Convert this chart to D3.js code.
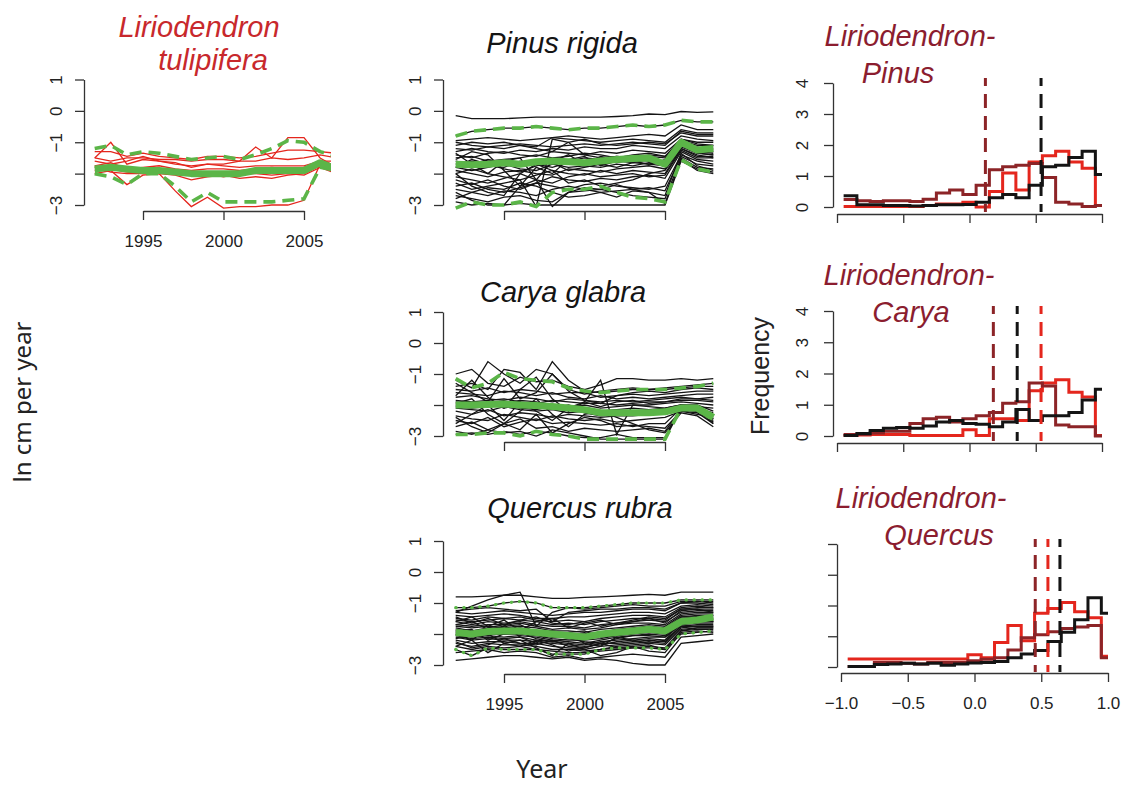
<!DOCTYPE html>
<html>
<head>
<meta charset="utf-8">
<script src="https://cdn.jsdelivr.net/npm/d3@7"></script>
<style>
  body { margin: 0; background: #fff; }
  svg text { font-family: "Liberation Sans", Arial, Helvetica, sans-serif; }
</style>
</head>
<body>
<svg id="fig" width="1122" height="786"></svg>
<script>
// growth series, ln cm per year, one value per year
const years = [1992,1993,1994,1995,1996,1997,1998,1999,2000,2001,2002,2003,2004,2005,2006,2007,2008];
const yearTicks = [1995, 2000, 2005];
const growthTicks = [-3, -2, -1, 0, 1];

const lirio = [
  [-1.3,-1.3,-1.45,-1.35,-1.45,-1.5,-1.55,-1.45,-1.45,-1.5,-1.45,-1.35,-1.25,-1.25,-1.3,-1.35,-1.4],
  [-1.5,-1.0,-1.7,-1.55,-1.6,-1.7,-1.75,-1.7,-1.7,-1.6,-1.15,-1.5,-0.85,-0.85,-1.5,-1.8,-2.0],
  [-1.9,-1.85,-1.95,-2.0,-2.0,-2.55,-3.05,-2.75,-3.1,-3.05,-3.05,-3.0,-3.0,-2.85,-1.7,-1.8,-2.0],
  [-1.6,-1.7,-1.6,-1.45,-1.6,-1.65,-1.8,-1.7,-1.75,-1.8,-1.75,-1.75,-1.75,-1.75,-1.6,-1.6,-1.55],
  [-2.0,-1.9,-2.35,-2.05,-2.0,-2.05,-2.2,-2.1,-2.05,-2.15,-2.1,-2.15,-2.05,-2.0,-1.75,-1.9,-2.1],
  [-1.8,-1.95,-2.0,-2.0,-1.95,-2.0,-2.05,-2.0,-2.1,-2.0,-2.0,-2.05,-2.0,-2.05,-1.8,-2.0,-2.2],
  [-1.75,-1.65,-1.85,-1.8,-1.75,-1.85,-1.9,-1.85,-1.85,-1.9,-1.85,-1.8,-1.85,-1.8,-1.65,-1.7,-1.75],
  [-1.5,-1.6,-1.5,-1.5,-1.55,-1.55,-1.6,-1.55,-1.55,-1.6,-1.6,-1.5,-1.55,-1.5,-1.4,-1.5,-1.6]
];
const lirioMean  = [-1.85,-1.8,-1.85,-1.9,-1.9,-1.95,-2.0,-2.0,-2.0,-2.0,-1.9,-1.9,-1.9,-1.9,-1.65,-1.85,-2.0];
const lirioUpper = [-1.2,-1.1,-1.4,-1.3,-1.35,-1.45,-1.55,-1.5,-1.45,-1.55,-1.4,-1.2,-0.95,-1.0,-1.3,-1.45,-1.4];
const lirioLower = [-2.0,-2.1,-2.35,-2.0,-2.0,-2.4,-2.9,-2.6,-2.9,-2.9,-2.9,-2.9,-2.85,-2.8,-1.8,-1.9,-2.1];

const pinus = [
  [-0.15,-0.25,-0.25,-0.25,-0.22,-0.2,-0.2,-0.2,-0.2,-0.2,-0.18,-0.15,-0.1,-0.12,-0.02,-0.05,-0.03],
  [-0.8,-0.65,-0.6,-0.55,-0.55,-0.5,-0.55,-0.6,-0.55,-0.55,-0.5,-0.45,-0.5,-0.45,-0.3,-0.35,-0.35],
  [-0.95,-0.9,-0.85,-0.9,-0.95,-0.9,-0.85,-0.8,-0.85,-0.9,-0.85,-0.8,-0.75,-0.8,-0.45,-0.6,-0.6],
  [-1.1,-1.0,-1.05,-1.0,-1.1,-1.15,-0.85,-0.9,-0.95,-1.0,-0.95,-0.9,-0.95,-1.0,-0.6,-0.7,-0.7],
  [-1.2,-1.25,-1.15,-1.2,-1.1,-1.2,-1.3,-1.0,-0.9,-1.05,-1.1,-1.05,-1.0,-1.05,-0.7,-0.8,-0.8],
  [-1.3,-1.2,-1.3,-1.35,-1.25,-1.3,-1.2,-1.25,-1.15,-1.2,-1.2,-1.1,-1.15,-1.2,-0.8,-0.9,-0.95],
  [-1.4,-1.5,-1.35,-1.3,-1.4,-1.45,-1.3,-1.35,-1.4,-1.3,-1.35,-1.25,-1.3,-1.35,-0.9,-1.0,-1.0],
  [-1.5,-1.45,-1.6,-1.55,-1.5,-1.4,-1.5,-1.45,-1.35,-1.4,-1.5,-1.4,-1.35,-1.45,-0.95,-1.1,-1.1],
  [-1.6,-1.7,-1.55,-1.65,-1.75,-1.6,-1.55,-1.6,-1.5,-1.55,-1.45,-1.5,-1.45,-1.5,-1.0,-1.2,-1.15],
  [-1.7,-1.6,-1.75,-1.8,-1.6,-1.7,-1.8,-1.65,-1.7,-1.6,-1.65,-1.55,-1.6,-1.65,-1.05,-1.25,-1.2],
  [-1.8,-1.9,-1.8,-1.7,-1.85,-1.9,-1.7,-1.8,-1.75,-1.8,-1.7,-1.75,-1.65,-1.7,-1.1,-1.3,-1.3],
  [-1.9,-2.0,-2.1,-1.95,-1.9,-2.0,-2.05,-1.85,-1.9,-1.95,-1.85,-1.8,-1.75,-1.85,-1.15,-1.35,-1.4],
  [-2.0,-1.85,-2.0,-2.1,-2.2,-2.05,-1.9,-2.0,-2.05,-1.9,-2.0,-1.9,-1.95,-2.0,-1.2,-1.45,-1.45],
  [-2.1,-2.2,-2.3,-2.15,-2.0,-2.2,-2.3,-2.1,-2.0,-2.1,-2.05,-2.0,-2.1,-2.05,-1.25,-1.5,-1.5],
  [-2.2,-2.35,-2.2,-2.4,-2.5,-2.3,-2.1,-2.2,-2.25,-2.15,-2.2,-2.1,-2.05,-2.15,-1.3,-1.55,-1.6],
  [-2.3,-2.5,-2.4,-2.3,-2.2,-3.05,-0.9,-1.0,-1.4,-1.5,-1.45,-1.5,-1.4,-1.45,-0.9,-1.05,-1.1],
  [-2.4,-2.3,-2.5,-2.6,-2.45,-2.3,-2.4,-2.5,-2.35,-2.3,-2.4,-2.45,-2.5,-2.4,-1.4,-1.6,-1.7],
  [-2.5,-2.6,-2.7,-2.55,-2.6,-2.7,-2.5,-2.4,-2.5,-2.6,-2.55,-2.5,-2.45,-2.55,-1.45,-1.7,-1.75],
  [-2.7,-2.8,-2.9,-2.75,-2.7,-2.85,-2.9,-2.6,-2.55,-2.5,-2.6,-2.7,-2.75,-2.8,-1.5,-1.8,-1.85],
  [-2.6,-2.85,-3.0,-3.0,-2.95,-3.0,-3.0,-3.0,-3.0,-3.0,-3.0,-3.0,-3.0,-3.0,-1.6,-1.85,-1.95],
  [-1.35,-1.7,-2.0,-1.6,-1.5,-2.2,-1.6,-1.4,-1.7,-1.45,-1.55,-1.6,-1.7,-1.55,-1.0,-1.15,-1.25],
  [-1.55,-1.3,-1.4,-1.9,-2.4,-1.8,-2.0,-1.55,-1.45,-1.75,-1.6,-1.65,-1.55,-1.7,-1.1,-1.35,-1.4],
  [-2.0,-2.4,-2.6,-2.7,-2.0,-1.7,-1.9,-2.3,-2.2,-2.4,-2.3,-2.2,-2.0,-1.9,-1.2,-1.4,-1.5],
  [-2.8,-2.6,-2.45,-2.5,-2.3,-2.4,-2.6,-2.75,-2.7,-2.6,-2.75,-2.55,-2.6,-2.7,-1.35,-1.75,-1.9],
  [-1.0,-1.1,-1.15,-1.1,-1.05,-1.1,-1.15,-1.1,-1.05,-1.1,-1.05,-1.0,-1.05,-1.1,-0.65,-0.75,-0.75],
  [-1.8,-1.55,-1.7,-1.85,-1.95,-1.75,-1.65,-1.9,-1.8,-1.7,-1.8,-1.65,-1.7,-1.75,-1.05,-1.3,-1.35],
  [-2.9,-3.0,-2.95,-3.0,-2.4,-2.2,-3.05,-2.6,-2.45,-2.5,-2.35,-2.5,-2.6,-2.95,-1.55,-1.9,-2.0]
];
const pinusMean  = [-1.7,-1.72,-1.7,-1.65,-1.7,-1.62,-1.6,-1.62,-1.65,-1.6,-1.55,-1.52,-1.5,-1.7,-1.0,-1.25,-1.2];
const pinusUpper = [-0.8,-0.65,-0.6,-0.55,-0.55,-0.5,-0.55,-0.6,-0.55,-0.55,-0.5,-0.45,-0.5,-0.45,-0.3,-0.35,-0.35];
const pinusLower = [-3.1,-2.9,-3.0,-3.0,-2.9,-3.05,-2.6,-2.5,-2.5,-2.4,-2.6,-2.75,-2.8,-2.9,-1.55,-1.85,-1.95];

const carya = [
  [-1.0,-0.85,-1.3,-1.4,-1.1,-1.25,-1.2,-1.4,-1.5,-1.35,-1.15,-1.15,-1.2,-1.2,-1.15,-1.2,-1.15],
  [-1.2,-1.45,-0.6,-1.0,-1.3,-0.85,-1.0,-1.5,-1.65,-1.55,-1.5,-1.45,-1.5,-1.45,-1.4,-1.35,-1.3],
  [-1.4,-1.3,-1.5,-0.85,-0.95,-1.5,-0.6,-1.2,-1.55,-1.6,-1.55,-1.5,-1.5,-1.5,-1.45,-1.4,-1.4],
  [-1.5,-1.55,-1.45,-1.6,-1.5,-1.55,-1.65,-1.6,-1.6,-1.75,-1.7,-1.65,-1.7,-1.65,-1.6,-1.55,-1.55],
  [-1.6,-1.65,-1.7,-1.55,-1.6,-1.7,-1.6,-1.75,-1.8,-1.7,-1.8,-1.75,-1.8,-1.75,-1.7,-1.65,-1.65],
  [-1.75,-1.7,-1.8,-1.85,-1.75,-1.8,-1.9,-1.8,-1.85,-1.9,-1.85,-1.9,-1.85,-1.8,-1.75,-1.8,-1.75],
  [-1.85,-1.9,-1.85,-1.8,-1.9,-1.95,-1.85,-1.9,-1.95,-1.95,-2.0,-1.95,-1.9,-1.9,-1.85,-1.85,-1.9],
  [-1.9,-1.95,-2.0,-1.95,-1.85,-1.9,-2.0,-2.05,-2.0,-2.1,-2.05,-2.0,-2.0,-1.95,-1.9,-1.95,-2.0],
  [-2.0,-2.05,-1.95,-2.1,-2.0,-2.05,-2.1,-2.0,-2.15,-2.2,-2.15,-2.1,-2.15,-2.1,-2.0,-2.05,-2.1],
  [-2.1,-2.15,-2.2,-2.05,-2.15,-2.2,-2.15,-2.25,-2.2,-2.3,-2.25,-2.3,-2.25,-2.2,-2.1,-2.1,-2.25],
  [-2.2,-2.3,-2.15,-2.35,-2.25,-2.3,-2.4,-2.3,-2.35,-2.4,-2.35,-2.35,-2.3,-2.3,-2.15,-2.2,-2.45],
  [-2.35,-2.45,-2.5,-2.3,-2.4,-2.5,-2.35,-2.45,-2.5,-2.45,-2.55,-2.5,-2.45,-2.4,-2.2,-2.25,-2.6],
  [-2.5,-2.6,-2.4,-2.7,-2.55,-2.45,-2.6,-2.55,-2.6,-2.65,-2.6,-2.7,-2.6,-2.6,-2.1,-2.15,-2.55],
  [-2.7,-2.55,-2.8,-2.6,-2.45,-2.75,-2.7,-2.85,-2.75,-2.8,-2.85,-2.8,-2.75,-2.85,-2.15,-2.2,-2.5],
  [-2.85,-2.95,-2.8,-2.9,-2.85,-3.0,-2.8,-2.9,-3.0,-3.1,-3.1,-3.1,-3.1,-3.1,-2.1,-2.15,-2.6],
  [-2.95,-2.9,-2.95,-2.85,-2.95,-2.85,-2.9,-3.0,-3.05,-3.05,-2.95,-3.05,-3.05,-3.05,-2.05,-2.1,-2.45],
  [-1.3,-1.6,-1.9,-1.15,-1.8,-1.6,-1.0,-1.55,-1.85,-1.95,-1.7,-1.6,-1.55,-1.6,-1.5,-1.45,-1.5],
  [-2.6,-2.3,-2.0,-2.5,-1.9,-2.2,-2.5,-2.1,-1.9,-1.2,-2.95,-2.0,-2.05,-2.1,-2.0,-2.0,-2.2],
  [-1.7,-1.2,-1.75,-2.1,-1.5,-1.1,-1.8,-2.2,-1.9,-2.05,-1.9,-1.85,-1.95,-1.9,-1.8,-1.8,-1.85],
  [-2.4,-2.7,-2.9,-2.6,-2.8,-2.3,-2.9,-2.6,-2.4,-2.5,-2.7,-2.65,-2.7,-2.75,-2.2,-2.3,-2.4],
  [-1.95,-1.8,-2.3,-2.6,-2.2,-1.8,-2.3,-2.7,-2.3,-2.2,-2.4,-2.6,-2.8,-2.9,-2.25,-2.35,-2.7],
  [-2.05,-2.1,-2.05,-2.0,-2.1,-2.15,-2.05,-2.1,-2.25,-2.35,-2.3,-2.3,-2.3,-2.25,-2.1,-2.1,-2.35]
];
const caryaMean  = [-2.0,-2.0,-1.98,-1.97,-2.0,-2.02,-2.05,-2.1,-2.15,-2.25,-2.25,-2.25,-2.25,-2.22,-2.1,-2.1,-2.4];
const caryaUpper = [-1.15,-1.45,-1.3,-0.95,-1.15,-1.2,-1.25,-1.45,-1.55,-1.6,-1.55,-1.5,-1.5,-1.5,-1.45,-1.4,-1.3];
const caryaLower = [-2.95,-2.95,-2.9,-2.9,-3.0,-2.85,-2.95,-3.0,-3.1,-3.1,-3.1,-3.1,-3.1,-3.1,-2.1,-2.1,-2.5];

const quercus = [
  [-0.8,-0.8,-0.78,-0.75,-0.75,-0.8,-0.85,-0.85,-0.82,-0.8,-0.78,-0.75,-0.72,-0.75,-0.65,-0.65,-0.65],
  [-1.15,-1.15,-1.1,-1.0,-0.95,-1.0,-1.15,-1.15,-1.15,-1.1,-1.05,-1.0,-1.0,-1.0,-0.9,-0.9,-0.9],
  [-1.3,-1.1,-0.9,-0.75,-0.65,-1.75,-1.3,-1.15,-1.2,-1.15,-1.1,-1.05,-1.1,-1.1,-0.95,-0.95,-0.95],
  [-1.3,-1.35,-1.3,-1.25,-1.3,-1.35,-1.4,-1.35,-1.3,-1.3,-1.25,-1.2,-1.2,-1.25,-1.0,-1.0,-1.05],
  [-1.4,-1.45,-1.4,-1.35,-1.4,-1.5,-1.5,-1.45,-1.45,-1.4,-1.35,-1.3,-1.3,-1.35,-1.1,-1.05,-1.1],
  [-1.5,-1.55,-1.45,-1.5,-1.45,-1.55,-1.6,-1.55,-1.6,-1.5,-1.45,-1.4,-1.4,-1.45,-1.15,-1.1,-1.15],
  [-1.55,-1.6,-1.55,-1.5,-1.55,-1.6,-1.7,-1.65,-1.7,-1.6,-1.55,-1.5,-1.5,-1.55,-1.2,-1.2,-1.2],
  [-1.6,-1.7,-1.6,-1.65,-1.6,-1.7,-1.75,-1.75,-1.8,-1.7,-1.65,-1.6,-1.55,-1.6,-1.3,-1.25,-1.25],
  [-1.7,-1.75,-1.7,-1.7,-1.65,-1.75,-1.85,-1.8,-1.85,-1.8,-1.7,-1.65,-1.65,-1.7,-1.35,-1.3,-1.3],
  [-1.75,-1.8,-1.75,-1.8,-1.75,-1.8,-1.9,-1.9,-1.95,-1.85,-1.8,-1.75,-1.7,-1.75,-1.4,-1.35,-1.35],
  [-1.8,-1.9,-1.8,-1.85,-1.8,-1.9,-1.95,-2.0,-2.0,-1.95,-1.85,-1.8,-1.75,-1.8,-1.45,-1.4,-1.4],
  [-1.85,-1.95,-1.9,-1.9,-1.85,-1.95,-2.0,-2.05,-2.1,-2.0,-1.9,-1.85,-1.8,-1.85,-1.5,-1.45,-1.45],
  [-1.9,-2.0,-1.95,-1.95,-1.9,-2.0,-2.1,-2.1,-2.15,-2.05,-2.0,-1.95,-1.9,-1.9,-1.55,-1.5,-1.5],
  [-1.95,-2.05,-2.0,-2.0,-2.0,-2.05,-2.15,-2.2,-2.2,-2.15,-2.05,-2.0,-1.95,-2.0,-1.6,-1.55,-1.55],
  [-2.0,-2.1,-2.05,-2.1,-2.05,-2.1,-2.2,-2.25,-2.3,-2.2,-2.1,-2.05,-2.0,-2.05,-1.65,-1.6,-1.6],
  [-2.05,-2.15,-2.1,-2.15,-2.1,-2.2,-2.25,-2.3,-2.35,-2.25,-2.2,-2.15,-2.1,-2.1,-1.7,-1.65,-1.65],
  [-2.1,-2.2,-2.15,-2.2,-2.2,-2.25,-2.3,-2.35,-2.4,-2.35,-2.25,-2.2,-2.15,-2.2,-1.75,-1.7,-1.7],
  [-2.2,-2.3,-2.25,-2.25,-2.3,-2.3,-2.4,-2.45,-2.5,-2.4,-2.35,-2.3,-2.25,-2.3,-1.8,-1.75,-1.75],
  [-2.3,-2.4,-2.3,-2.35,-2.35,-2.4,-2.5,-2.5,-2.55,-2.5,-2.4,-2.35,-2.3,-2.35,-1.85,-1.8,-1.8],
  [-2.4,-2.5,-2.4,-2.45,-2.4,-2.5,-2.55,-2.6,-2.6,-2.55,-2.5,-2.45,-2.4,-2.45,-1.9,-1.85,-1.85],
  [-2.5,-2.7,-2.45,-2.5,-2.5,-2.5,-2.65,-2.65,-2.65,-2.5,-2.45,-2.45,-2.45,-2.5,-2.0,-1.95,-1.9],
  [-2.85,-2.8,-2.75,-2.7,-2.7,-2.75,-2.8,-2.75,-2.85,-2.8,-2.85,-2.95,-3.0,-3.0,-2.3,-2.25,-2.2],
  [-1.6,-1.45,-1.75,-1.55,-1.9,-1.6,-1.5,-1.8,-1.65,-1.55,-1.7,-1.6,-1.5,-1.65,-1.25,-1.2,-1.3],
  [-2.0,-2.2,-1.8,-1.7,-2.1,-2.3,-1.9,-2.0,-2.3,-2.4,-2.1,-2.2,-2.3,-2.2,-1.6,-1.5,-1.6],
  [-2.4,-2.2,-2.6,-2.3,-2.2,-2.45,-2.7,-2.3,-2.5,-2.7,-2.6,-2.4,-2.55,-2.6,-1.95,-1.9,-1.95],
  [-1.45,-1.65,-1.5,-1.7,-1.55,-1.45,-1.65,-1.7,-1.6,-1.75,-1.65,-1.55,-1.45,-1.5,-1.2,-1.15,-1.15],
  [-1.7,-1.6,-1.85,-1.75,-1.7,-1.95,-2.1,-1.95,-1.9,-2.1,-2.05,-1.95,-1.85,-1.95,-1.45,-1.45,-1.4],
  [-2.25,-2.45,-2.35,-2.15,-2.3,-2.35,-2.2,-2.4,-2.45,-2.3,-2.45,-2.4,-2.35,-2.5,-1.9,-1.8,-1.8],
  [-1.25,-1.2,-1.15,-1.2,-1.25,-1.2,-1.6,-1.3,-1.25,-1.2,-1.2,-1.15,-1.15,-1.2,-1.0,-0.95,-1.0],
  [-2.6,-2.55,-2.5,-2.6,-2.55,-2.6,-2.75,-2.7,-2.8,-2.75,-2.7,-2.65,-2.7,-2.75,-2.1,-2.05,-2.0],
  [-1.9,-1.85,-2.2,-2.0,-1.95,-2.15,-2.25,-2.15,-2.25,-2.3,-2.15,-2.05,-2.05,-2.1,-1.7,-1.6,-1.6],
  [-2.15,-2.05,-2.0,-2.3,-2.4,-2.2,-2.35,-2.55,-2.45,-2.3,-2.3,-2.25,-2.2,-2.25,-1.75,-1.75,-1.75]
];
const quercusMean  = [-1.95,-2.0,-1.92,-1.9,-1.9,-1.95,-2.0,-2.05,-2.1,-2.0,-1.95,-1.9,-1.85,-1.9,-1.6,-1.55,-1.45];
const quercusUpper = [-1.15,-1.15,-1.1,-1.0,-0.95,-1.0,-1.15,-1.15,-1.15,-1.1,-1.05,-1.0,-1.0,-1.0,-0.9,-0.9,-0.9];
const quercusLower = [-2.5,-2.7,-2.45,-2.5,-2.5,-2.5,-2.65,-2.65,-2.65,-2.5,-2.45,-2.45,-2.45,-2.5,-2.0,-1.95,-1.9];

// correlation histograms (bins of 0.1 between -1 and 1)
const binMids = [-0.95,-0.85,-0.75,-0.65,-0.55,-0.45,-0.35,-0.25,-0.15,-0.05,0.05,0.15,0.25,0.35,0.45,0.55,0.65,0.75,0.85,0.95];
const corrTicks = [-1, -0.5, 0, 0.5, 1];
const freqTicks = [0, 1, 2, 3, 4];

const pinusHistLirio = [0.02,0.02,0.02,0.02,0.02,0.02,0.05,0.1,0.1,0.15,0.0,0.5,1.1,0.55,1.45,1.65,1.8,1.45,1.25,0.05];
const pinusHistSelf  = [0.36,0.07,0.07,0.05,0.05,0.03,0.05,0.07,0.07,0.08,0.15,0.3,0.4,0.3,0.7,1.3,1.35,1.6,1.8,1.05];
const pinusHistCross = [0.24,0.2,0.18,0.2,0.2,0.18,0.25,0.45,0.55,0.4,0.7,1.2,1.3,1.35,1.4,0.95,0.15,0.1,0.02,0.05];
const pinusMedians = {cross: 0.12, self: 0.54};

const caryaHistLirio = [0.02,0.03,0.05,0.05,0.05,0.02,0.02,0.02,0.02,0.2,0.02,0.55,0.55,0.5,1.45,1.7,1.8,1.4,1.25,0.02];
const caryaHistSelf  = [0.02,0.08,0.18,0.25,0.27,0.25,0.32,0.45,0.5,0.4,0.38,0.3,0.45,0.85,0.5,0.65,0.65,0.75,1.15,1.5];
const caryaHistCross = [0.05,0.05,0.1,0.15,0.15,0.4,0.55,0.6,0.45,0.55,0.65,0.75,1.05,1.1,1.7,1.6,0.35,0.3,0.3,0.0];
const caryaMedians = {cross: 0.18, self: 0.36, lirio: 0.54};

const quercusHistLirio = [0.26,0.26,0.26,0.26,0.26,0.26,0.26,0.26,0.26,0.4,0.3,0.8,1.35,0.85,1.75,1.9,2.1,1.8,1.6,0.35];
const quercusHistSelf  = [0.02,0.02,0.08,0.1,0.12,0.1,0.12,0.06,0.1,0.13,0.15,0.18,0.3,0.42,0.54,0.83,1.13,1.54,2.25,1.75];
const quercusHistCross = [0.02,0.02,0.15,0.15,0.12,0.1,0.15,0.15,0.15,0.2,0.25,0.3,0.55,0.95,1.05,1.15,1.25,1.3,1.35,0.3];
const quercusMedians = {cross: 0.455, lirio: 0.55, self: 0.64};

const GREEN = "#5bb548", RED = "#e4261d", DARKRED = "#8c2427", INK = "#141414";
const TITLE_RED = "#c8282c", TITLE_DARK = "#8b1d2f";

const svg = d3.select("#fig");
const fmt = d3.format("d");

function styleAxis(g) {
  g.attr("font-size", 17).attr("font-family", "Liberation Sans, Arial, sans-serif");
  g.selectAll("path, line").attr("stroke", "#333").attr("stroke-width", 1.3);
  g.selectAll("text").attr("fill", "#222");
}

function rotateLabels(g, off) {
  g.selectAll(".tick text")
    .attr("x", 0).attr("dy", 0)
    .attr("text-anchor", "middle")
    .attr("transform", `translate(${off},0) rotate(-90)`);
}

function seriesPanel(cfg) {
  const x = d3.scaleLinear().domain([1995, 2005]).range(cfg.xr);
  const y = d3.scaleLinear().domain([-3, 1]).range(cfg.yr);
  const g = svg.append("g");
  let plot = g.append("g");
  if (cfg.clipRight) {
    const id = "clip" + cfg.id;
    svg.append("clipPath").attr("id", id).append("rect")
      .attr("x", 0).attr("y", 0).attr("width", cfg.clipRight).attr("height", 786);
    plot.attr("clip-path", `url(#${id})`);
  }
  const line = d3.line().x((d, i) => x(years[i])).y(d => y(d));

  plot.selectAll("path.tree").data(cfg.lines).join("path")
    .attr("class", "tree")
    .attr("d", line)
    .attr("fill", "none")
    .attr("stroke", cfg.lineColor)
    .attr("stroke-width", 1.3);

  [cfg.upper, cfg.lower].forEach(band => {
    plot.append("path").datum(band)
      .attr("d", line)
      .attr("fill", "none")
      .attr("stroke", GREEN)
      .attr("stroke-width", cfg.dotted ? 3.2 : 3.6)
      .attr("stroke-linecap", cfg.dotted ? "round" : "butt")
      .attr("stroke-dasharray", cfg.dotted ? "0.5,7.5" : "12,7");
  });

  plot.append("path").datum(cfg.mean)
    .attr("d", line)
    .attr("fill", "none")
    .attr("stroke", GREEN)
    .attr("stroke-width", 7)
    .attr("stroke-linejoin", "round");

  const ya = g.append("g").attr("transform", `translate(${cfg.ax},0)`)
    .call(d3.axisLeft(y).tickValues(growthTicks).tickSize(9).tickSizeOuter(0)
      .tickFormat(d => d === -2 ? "" : fmt(d)));
  styleAxis(ya);
  rotateLabels(ya, -22);

  const xa = g.append("g").attr("transform", `translate(0,${cfg.ay})`)
    .call(d3.axisBottom(x).tickValues(yearTicks).tickSize(9).tickSizeOuter(0).tickPadding(15)
      .tickFormat(cfg.xLabels ? fmt : ""));
  styleAxis(xa);

  cfg.title.forEach(t => {
    g.append("text")
      .attr("x", t.x).attr("y", t.y)
      .attr("text-anchor", "middle")
      .attr("font-size", 29).attr("font-style", "italic")
      .attr("fill", cfg.titleColor)
      .text(t.text);
  });
}

function histPanel(cfg) {
  const x = d3.scaleLinear().domain([-1, 1]).range(cfg.xr);
  const y = d3.scaleLinear().domain([0, 4]).range(cfg.yr);
  const g = svg.append("g");
  const step = d3.line().x(d => x(d[0])).y(d => y(d[1])).curve(d3.curveStepAfter);

  const series = [
    {vals: cfg.lirio, color: RED},
    {vals: cfg.cross, color: DARKRED},
    {vals: cfg.self, color: INK}
  ];
  series.forEach(s => {
    const pts = binMids.map((m, i) => [m, s.vals[i]]).concat([[1, s.vals[s.vals.length - 1]]]);
    g.append("path").datum(pts)
      .attr("d", step)
      .attr("fill", "none")
      .attr("stroke", s.color)
      .attr("stroke-width", 3);
  });

  const medColor = {lirio: RED, cross: DARKRED, self: INK};
  Object.keys(cfg.medians).forEach(k => {
    const v = cfg.medians[k];
    g.append("line")
      .attr("x1", x(v)).attr("x2", x(v))
      .attr("y1", y(4.16)).attr("y2", y(-0.16))
      .attr("stroke", medColor[k])
      .attr("stroke-width", 3)
      .attr("stroke-dasharray", "14,8")
      .attr("stroke-dashoffset", 6);
  });

  const ya = g.append("g").attr("transform", `translate(${cfg.ax},0)`)
    .call(d3.axisLeft(y).tickValues(freqTicks).tickSize(9).tickSizeOuter(0)
      .tickFormat(cfg.yLabels ? fmt : ""));
  styleAxis(ya);
  rotateLabels(ya, -25);

  const xa = g.append("g").attr("transform", `translate(0,${cfg.ay})`)
    .call(d3.axisBottom(x).tickValues(corrTicks).tickSize(9).tickSizeOuter(0).tickPadding(15)
      .tickFormat(cfg.xLabels ? d3.format(".1f") : ""));
  styleAxis(xa);

  cfg.title.forEach(t => {
    g.append("text")
      .attr("x", t.x).attr("y", t.y)
      .attr("text-anchor", "middle")
      .attr("font-size", 29).attr("font-style", "italic")
      .attr("fill", TITLE_DARK)
      .text(t.text);
  });
}

seriesPanel({
  id: 1, lines: lirio, mean: lirioMean, upper: lirioUpper, lower: lirioLower,
  lineColor: RED, xr: [143, 304], yr: [205, 79.5], ax: 84, ay: 211, xLabels: true,
  clipRight: 331, titleColor: TITLE_RED,
  title: [{text: "Liriodendron", x: 199, y: 37}, {text: "tulipifera", x: 213, y: 70}]
});
seriesPanel({
  id: 2, lines: pinus, mean: pinusMean, upper: pinusUpper, lower: pinusLower,
  lineColor: INK, xr: [504, 665], yr: [205, 79.5], ax: 443, ay: 211, xLabels: false,
  titleColor: INK, title: [{text: "Pinus rigida", x: 562, y: 53}]
});
seriesPanel({
  id: 3, lines: carya, mean: caryaMean, upper: caryaUpper, lower: caryaLower,
  lineColor: INK, xr: [504, 665], yr: [436, 312], ax: 443, ay: 442, xLabels: false,
  titleColor: INK, title: [{text: "Carya glabra", x: 563, y: 302}]
});
seriesPanel({
  id: 4, lines: quercus, mean: quercusMean, upper: quercusUpper, lower: quercusLower,
  lineColor: INK, dotted: true, xr: [504, 665], yr: [665, 541], ax: 443, ay: 674, xLabels: true,
  titleColor: INK, title: [{text: "Quercus rubra", x: 580, y: 518}]
});

histPanel({
  lirio: pinusHistLirio, self: pinusHistSelf, cross: pinusHistCross, medians: pinusMedians,
  xr: [837, 1102], yr: [207, 83], ax: 833, ay: 214, yLabels: true, xLabels: false,
  title: [{text: "Liriodendron-", x: 910, y: 46}, {text: "Pinus", x: 898, y: 83}]
});
histPanel({
  lirio: caryaHistLirio, self: caryaHistSelf, cross: caryaHistCross, medians: caryaMedians,
  xr: [837, 1102], yr: [436, 311], ax: 833, ay: 443, yLabels: true, xLabels: false,
  title: [{text: "Liriodendron-", x: 909, y: 285}, {text: "Carya", x: 911, y: 322}]
});
histPanel({
  lirio: quercusHistLirio, self: quercusHistSelf, cross: quercusHistCross, medians: quercusMedians,
  xr: [841, 1108], yr: [667, 544], ax: 837, ay: 673, yLabels: false, xLabels: true,
  title: [{text: "Liriodendron-", x: 921, y: 508}, {text: "Quercus", x: 939, y: 545}]
});

// shared axis titles
svg.append("text")
  .attr("transform", "translate(31,402) rotate(-90)")
  .attr("text-anchor", "middle")
  .style("font-family", "'Noto Sans', 'Open Sans', sans-serif")
  .attr("font-size", 24).attr("fill", "#222")
  .text("ln cm per year");

svg.append("text")
  .attr("x", 542).attr("y", 778)
  .attr("text-anchor", "middle")
  .style("font-family", "'Noto Sans', 'Open Sans', sans-serif")
  .attr("font-size", 25).attr("fill", "#222")
  .text("Year");

svg.append("text")
  .attr("transform", "translate(769,376) rotate(-90)")
  .attr("text-anchor", "middle")
  .attr("font-size", 25).attr("fill", "#222")
  .text("Frequency");
</script>
</body>
</html>
